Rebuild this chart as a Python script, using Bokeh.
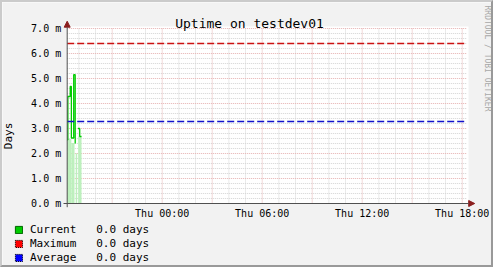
import math
from bokeh.plotting import figure
from bokeh.models import (Range1d, FixedTicker, Label, Arrow, NormalHead,
                          Legend, LegendItem)
from bokeh.embed import file_html
from bokeh.resources import INLINE

# ---------------- data ----------------
title_text = "Uptime on testdev01"
y_label = "Days"
watermark = "RRDTOOL / TOBI OETIKER"

# time in hours relative to Thu 00:00
x_start, x_end = -5.70, 18.30
x_ticks = [0, 6, 12, 18]
x_tick_labels = ["Thu 00:00", "Thu 06:00", "Thu 12:00", "Thu 18:00"]
y_min, y_max = 0.0, 7.0
y_ticks = [0, 1, 2, 3, 4, 5, 6, 7]
y_tick_labels = ["0.0 m", "1.0 m", "2.0 m", "3.0 m", "4.0 m", "5.0 m", "6.0 m", "7.0 m"]

# "Current" uptime (milli-days), stepped samples
cur_t = [-5.70, -5.66, -5.52, -5.45, -5.31, -5.22, -5.20, -5.18, -5.07, -5.05, -4.95, -4.84]
cur_v = [2.55, 4.28, 4.68, 2.62, 5.15, 2.40, float("nan"), 2.01, float("nan"), 3.00, 2.68, 2.68]

# light area under the samples
fill_left = [-5.70, -5.45, -5.19, -5.04]
fill_right = [-5.45, -5.26, -5.10, -4.84]
fill_top = [2.58, 2.42, 2.01, 2.68]

max_value = 6.40
avg_value = 3.28

legend_names = ["Current", "Maximum", "Average"]
legend_values = ["0.0 days", "0.0 days", "0.0 days"]
legend_colors = ["#00CC00", "#FF0000", "#0000FF"]

FONT = "DejaVu Sans Mono"
BACK = "#F2F2F2"
NAN = float("nan")

# ---------------- layout constants (pixels) ----------------
W, H = 493, 267                    # canvas (2px frame border around it)
PXH = 400 / (x_end - x_start)      # px per hour
PXV = 175 / (y_max - y_min)        # px per unit
X0_PX, Y0_PX = 64.7, 66.0          # where (x_start, 0) sits: from left, from bottom
xr0 = x_start - X0_PX / PXH
xr1 = xr0 + W / PXH
yr0 = y_min - Y0_PX / PXV
yr1 = yr0 + H / PXV

p = figure(width=W, height=H, output_backend="svg", toolbar_location=None, title=None,
           x_range=Range1d(xr0, xr1), y_range=Range1d(yr0, yr1), min_border=0,
           min_border_left=0, min_border_right=0, min_border_top=0, min_border_bottom=0)
p.styles = {"border-top": "2px solid #CBCBCB", "border-left": "2px solid #CBCBCB",
            "border-bottom": "2px solid #999999", "border-right": "2px solid #999999"}
p.background_fill_color = BACK
p.border_fill_color = BACK
p.outline_line_color = None
p.grid.visible = False

# axes drawn at the data origin (labels only, lines drawn as arrows below)
p.xaxis.fixed_location = y_min
p.yaxis.fixed_location = x_start
p.xaxis.ticker = FixedTicker(ticks=x_ticks)
p.xaxis.major_label_overrides = dict(zip(x_ticks, x_tick_labels))
p.yaxis.ticker = FixedTicker(ticks=y_ticks)
p.yaxis.major_label_overrides = dict(zip(y_ticks, y_tick_labels))
for ax in (p.xaxis, p.yaxis):
    ax.axis_line_color = None
    ax.major_tick_line_color = None
    ax.minor_tick_line_color = None
    ax.major_tick_out = 0
    ax.major_tick_in = 0
    ax.minor_tick_out = 0
    ax.minor_tick_in = 0
    ax.major_label_text_font = FONT
    ax.major_label_text_font_size = "10px"
    ax.major_label_text_color = "black"
p.xaxis.major_label_standoff = 4
p.yaxis.major_label_standoff = 6
p.yaxis.axis_label = y_label
p.yaxis.axis_label_text_font = FONT
p.yaxis.axis_label_text_font_size = "11px"
p.yaxis.axis_label_text_font_style = "normal"
p.yaxis.axis_label_text_color = "black"
p.yaxis.axis_label_standoff = 13

# plot canvas
p.quad(left=[x_start], right=[x_end + 1.3 / PXH], bottom=[y_min], top=[y_max + 2 / PXV],
       fill_color="white", line_color=None)

# grid lines
x_major = [h for h in range(-3, 19, 3)]
x_minor = [h for h in range(-5, 19) if h % 3 != 0]
y_minor = [round(i * 0.2, 1) for i in range(1, 36) if i % 5 != 0]
y_major = [t for t in y_ticks if t > 0]
GRID_MINOR = "#D4D4D4"
GRID_MAJOR = "#E6B0B0"
p.segment(x0=x_minor, y0=y_min, x1=x_minor, y1=y_max, line_color=GRID_MINOR, line_dash="1 1")
p.segment(x0=x_start, y0=y_minor, x1=x_end, y1=y_minor, line_color=GRID_MINOR, line_dash="1 1")
p.segment(x0=x_major, y0=y_min, x1=x_major, y1=y_max, line_color=GRID_MAJOR, line_dash="1 1")
p.segment(x0=x_start, y0=y_major, x1=x_end, y1=y_major, line_color=GRID_MAJOR, line_dash="1 1")

# data
p.quad(left=fill_left, right=fill_right, bottom=y_min, top=fill_top,
       fill_color="#BDF0BD", line_color=None)
p.step(cur_t, cur_v, mode="after", line_color="#00CC00", line_width=1.3)
p.line([x_start, x_end], [max_value, max_value], line_color="#CC1111",
       line_width=1.5, line_dash="7 3")
p.line([x_start, x_end], [avg_value, avg_value], line_color="#1111CC",
       line_width=1.5, line_dash="7 3")

# axis lines with arrow heads
AXC = "#505050"
ARC = "#8B1E1E"
p.add_layout(Arrow(x_start=x_start - 3.7 / PXH, y_start=y_min, x_end=x_end + 7.5 / PXH, y_end=y_min,
                   line_color=AXC, line_width=1,
                   end=NormalHead(size=6, fill_color=ARC, line_color=ARC, line_width=1)))
p.add_layout(Arrow(x_start=x_start, y_start=y_min - 3.7 / PXV, x_end=x_start, y_end=y_max + 7.3 / PXV,
                   line_color=AXC, line_width=1,
                   end=NormalHead(size=6, fill_color=ARC, line_color=ARC, line_width=1)))

# title & watermark (screen px from the canvas bottom-left)
p.add_layout(Label(x=W / 2 + 0.5, y=H - 20.5, x_units="screen", y_units="screen",
                   text=title_text, text_font=FONT, text_font_size="13px",
                   text_align="center", text_baseline="alphabetic", text_color="black"))
p.add_layout(Label(x=W - 8, y=H - 3, x_units="screen", y_units="screen", text=watermark,
                   text_font=FONT, text_font_size="8px", text_align="left",
                   text_baseline="middle", text_color="#A8A8A8", angle=-math.pi / 2))

# ---------------- legend ----------------
ROW, GAP = 13, 1
items = []
for name, val, col in zip(legend_names, legend_values, legend_colors):
    r = p.quad(left=[NAN], right=[NAN], top=[NAN], bottom=[NAN], fill_color=col,
               line_color="#006600" if col == "#00CC00" else "black",
               line_dash="solid" if col == "#00CC00" else "1 1")
    label = name.ljust(10).replace(" ", "\u00a0") + val.replace(" ", "\u00a0")
    items.append(LegendItem(label=label, renderers=[r]))
legend = Legend(items=items, location=(12, 5), orientation="vertical",
                glyph_width=9, glyph_height=9, label_height=ROW, spacing=GAP,
                label_standoff=7, padding=0, margin=0, border_line_color=None,
                background_fill_alpha=0, label_text_font=FONT,
                label_text_font_size="11px", label_text_color="black")
p.add_layout(legend)

open("out.html", "w").write(file_html(p, INLINE))
